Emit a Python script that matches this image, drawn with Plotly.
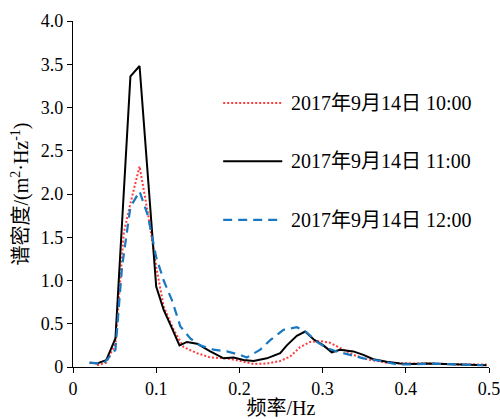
import plotly.graph_objects as go

# Series data (frequency in Hz, spectral density in m^2/Hz)
x_10 = [0.029, 0.040, 0.051, 0.061, 0.069, 0.080, 0.090, 0.100, 0.109, 0.121, 0.133, 0.149, 0.165,
        0.185, 0.201, 0.217, 0.233, 0.249, 0.261, 0.273, 0.285, 0.297, 0.309, 0.321, 0.337, 0.353,
        0.377, 0.401, 0.433, 0.465, 0.497]
y_10 = [0.02, 0.05, 0.27, 1.55, 1.89, 2.32, 1.78, 1.16, 0.70, 0.43, 0.23, 0.16, 0.11,
        0.10, 0.07, 0.035, 0.04, 0.07, 0.12, 0.23, 0.29, 0.30, 0.28, 0.22, 0.14, 0.09,
        0.05, 0.04, 0.04, 0.03, 0.03]

x_11 = [0.020, 0.029, 0.040, 0.051, 0.069, 0.080, 0.100, 0.109, 0.117, 0.128, 0.137, 0.149, 0.165,
        0.181, 0.193, 0.205, 0.217, 0.233, 0.249, 0.257, 0.269, 0.279, 0.289, 0.301, 0.311, 0.321,
        0.337, 0.349, 0.361, 0.377, 0.393, 0.409, 0.425, 0.441, 0.457, 0.473, 0.497]
y_11 = [0.05, 0.04, 0.08, 0.33, 3.36, 3.48, 0.93, 0.66, 0.49, 0.25, 0.29, 0.27, 0.18,
        0.10, 0.11, 0.08, 0.07, 0.10, 0.16, 0.25, 0.36, 0.41, 0.32, 0.25, 0.17, 0.20,
        0.18, 0.14, 0.09, 0.06, 0.04, 0.035, 0.04, 0.035, 0.03, 0.02, 0.02]

x_12 = [0.020, 0.037, 0.051, 0.059, 0.069, 0.080, 0.090, 0.100, 0.109, 0.119, 0.129, 0.141, 0.153,
        0.169, 0.185, 0.201, 0.209, 0.225, 0.237, 0.253, 0.269, 0.281, 0.293, 0.305, 0.317, 0.333,
        0.349, 0.369, 0.389, 0.409, 0.433, 0.457, 0.493]
y_12 = [0.05, 0.04, 0.20, 1.16, 1.85, 2.03, 1.75, 1.27, 1.00, 0.77, 0.47, 0.33, 0.25,
        0.20, 0.18, 0.14, 0.11, 0.20, 0.31, 0.43, 0.46, 0.40, 0.29, 0.22, 0.18, 0.14,
        0.10, 0.07, 0.03, 0.03, 0.04, 0.03, 0.02]

series_names = ["2017年9月14日 10:00", "2017年9月14日 11:00", "2017年9月14日 12:00"]
x_ticks = [0, 0.1, 0.2, 0.3, 0.4, 0.5]
x_ticklabels = ["0", "0.1", "0.2", "0.3", "0.4", "0.5"]
y_ticks = [0, 0.5, 1.0, 1.5, 2.0, 2.5, 3.0, 3.5, 4.0]
y_ticklabels = ["0", "0.5", "1.0", "1.5", "2.0", "2.5", "3.0", "3.5", "4.0"]

FONT = "Liberation Serif, Times New Roman, Noto Sans CJK SC, serif"
styles = [
    dict(color="#FF3B3B", width=2, dash="2px,2px"),
    dict(color="#000000", width=2, dash="solid"),
    dict(color="#1A78C2", width=2.2, dash="9px,6px"),
]

fig = go.Figure()
for xs, ys, name, st in zip([x_10, x_11, x_12], [y_10, y_11, y_12], series_names, styles):
    fig.add_trace(go.Scatter(x=xs, y=ys, mode="lines", name=name, line=st, showlegend=False))

# Manual legend (line samples + labels) in paper coordinates
leg_y = [0.763, 0.595, 0.425]
for name, st, ly in zip(series_names, styles, leg_y):
    fig.add_shape(type="line", xref="paper", yref="paper", x0=0.361, x1=0.503, y0=ly, y1=ly,
                  line=st)
    fig.add_annotation(xref="paper", yref="paper", x=0.52, y=ly, text=name, showarrow=False,
                       xanchor="left", yanchor="middle", font=dict(family=FONT, size=20, color="#000"))

fig.update_layout(
    width=500, height=419,
    margin=dict(l=73, r=11, t=21, b=52),
    paper_bgcolor="white", plot_bgcolor="white",
    font=dict(family=FONT, size=18, color="#000"),
    xaxis=dict(range=[0, 0.5], tickvals=x_ticks, ticktext=x_ticklabels, showgrid=False, zeroline=False,
               automargin=False, ticklabeloverflow="allow",
               showline=True, linecolor="#000", linewidth=1.2, ticks="outside", ticklen=5,
               tickcolor="#000", tickfont=dict(family=FONT, size=18),
               title=dict(text="频率/Hz", font=dict(family=FONT, size=20), standoff=8)),
    yaxis=dict(range=[0, 4.0], tickvals=y_ticks, ticktext=y_ticklabels, showgrid=False, zeroline=False,
               automargin=False, ticklabeloverflow="allow",
               showline=True, linecolor="#000", linewidth=1.2, ticks="outside", ticklen=5,
               tickcolor="#000", tickfont=dict(family=FONT, size=18),
               title=dict(text="谱密度/(m<sup>2</sup>·Hz<sup>-1</sup>)", font=dict(family=FONT, size=20), standoff=6)),
)

# Remove the default page margin so the 500x419 figure fills the window exactly.
fig.write_html("out.html",
               config={"displayModeBar": False},
               post_script="document.body.style.margin='0';document.body.style.overflow='hidden';")
